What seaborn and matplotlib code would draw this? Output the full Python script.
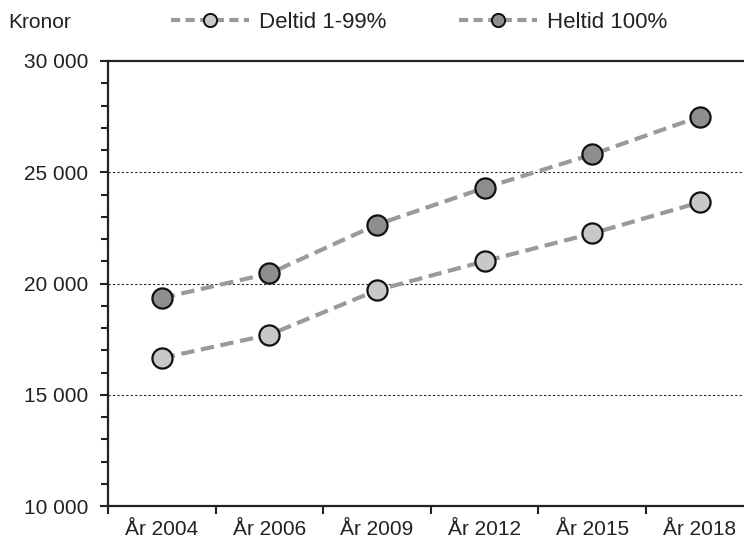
import matplotlib
matplotlib.use("Agg")
import matplotlib.pyplot as plt
from matplotlib.lines import Line2D
from matplotlib.ticker import FixedLocator, MultipleLocator, FuncFormatter
import seaborn as sns
import pandas as pd

years = ["År 2004", "År 2006", "År 2009", "År 2012", "År 2015", "År 2018"]
deltid = [16650, 17700, 19700, 21000, 22250, 23650]
heltid = [19350, 20450, 22650, 24300, 25800, 27500]
series_names = ["Deltid 1-99%", "Heltid 100%"]
face_colors = ["#c8c8c8", "#8e8e8e"]

sns.set_theme(style="ticks")
plt.rcParams["font.family"] = ["Liberation Sans", "DejaVu Sans"]
FS = 15

fig = plt.figure(figsize=(7.44, 5.39), dpi=100)
ax = fig.add_axes([108 / 744, 1 - 506 / 539, 645.6 / 744, 445 / 539])

line_color = "#9a9a9a"
dash_pattern = (3.2, 1.6)

df = pd.DataFrame({"år": years * 2,
                   "kronor": deltid + heltid,
                   "serie": [series_names[0]] * 6 + [series_names[1]] * 6})

for name, face in zip(series_names, face_colors):
    sub = df[df["serie"] == name]
    sns.lineplot(data=sub, x="år", y="kronor", ax=ax, color=line_color,
                 linewidth=3, marker="o", markersize=14.5,
                 markerfacecolor=face, markeredgecolor="#111111",
                 markeredgewidth=1.6, sort=False, legend=False, zorder=3)
    ax.lines[-1].set_dashes(dash_pattern)

ax.set_xlim(-0.5, 5.5)
ax.set_ylim(10000, 30000)
ax.set_xlabel("")
ax.set_ylabel("")

# y axis ticks
ax.yaxis.set_major_locator(MultipleLocator(5000))
ax.yaxis.set_minor_locator(MultipleLocator(1000))
ax.yaxis.set_major_formatter(FuncFormatter(lambda v, p: f"{int(v):,}".replace(",", " ")))
ax.tick_params(axis="y", which="major", length=6, width=1.5, color="#222222",
               labelsize=FS, pad=8, labelcolor="#222222")
ax.tick_params(axis="y", which="minor", length=5, width=1.5, color="#222222")

# x axis: labels at category centres, tick marks at category boundaries
ax.set_xticks(range(len(years)))
ax.set_xticklabels(years)
ax.xaxis.set_minor_locator(FixedLocator([i - 0.5 for i in range(len(years) + 1)]))
ax.tick_params(axis="x", which="major", length=0, labelsize=FS, pad=10,
               labelcolor="#222222")
ax.tick_params(axis="x", which="minor", length=6, width=1.5, color="#222222")

for s in ["left", "bottom", "top"]:
    ax.spines[s].set_linewidth(1.6)
    ax.spines[s].set_color("#222222")
ax.spines["right"].set_visible(False)

for v in [15000, 20000, 25000]:
    ax.axhline(v, color="#222222", linewidth=0.8, linestyle=(0, (2, 2)), zorder=1)

fig.text(8 / 744, 1 - 22 / 539, "Kronor", fontsize=FS, va="center", ha="left",
         color="#222222")

handles = []
for face in face_colors:
    h = Line2D([0], [0], color=line_color, linewidth=3, marker="o", markersize=9.5,
               markerfacecolor=face, markeredgecolor="#111111", markeredgewidth=1.4)
    h.set_dashes((2.2, 1.3))
    handles.append(h)
fig.legend(handles, series_names, loc="center", bbox_to_anchor=(419 / 744, 1 - 22 / 539),
           ncol=2, frameon=False, fontsize=16, handlelength=3.5, columnspacing=3.3,
           handletextpad=0.45, labelcolor="#222222")

fig.savefig("out.png", dpi=100)
